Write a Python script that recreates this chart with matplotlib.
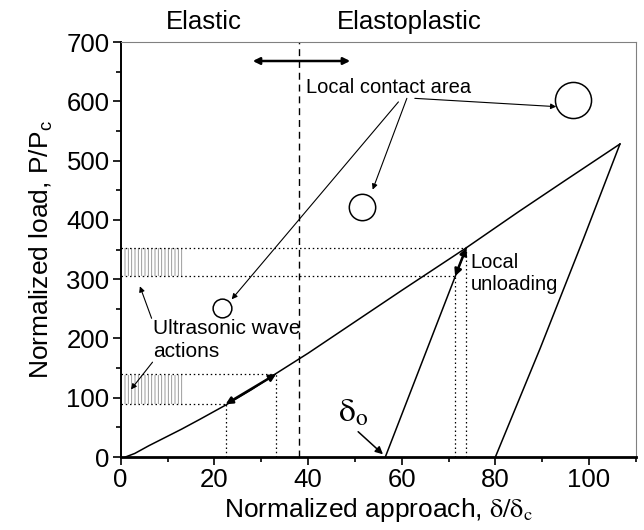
import numpy as np
import matplotlib
matplotlib.use('Agg')
import matplotlib.pyplot as plt
from matplotlib.patches import Rectangle

plt.rcParams['font.family'] = ['Liberation Sans', 'DejaVu Sans']
plt.rcParams['mathtext.fontset'] = 'custom'
plt.rcParams['mathtext.rm'] = 'Liberation Sans'
plt.rcParams['hatch.linewidth'] = 0.6

# loading curve (normalized approach vs normalized load)
load_x = [1, 3, 6, 10, 13, 17, 22.5, 28, 33, 40, 50, 60, 73.8, 85, 95, 106.6]
load_y = [0, 6, 19, 35, 47, 64, 88, 114, 140, 175, 228, 281, 353, 414, 467, 528]

# local unloading line and final unloading line
unload1_x = [56.5, 73.8]
unload1_y = [0, 353]
unload2_x = [80, 89.6, 98.8, 106.6]
unload2_y = [0, 184, 368, 528]

# elastic / elastoplastic boundary
boundary_x = 38.1

# ultrasonic action points (approach, load)
ultra_low = [(22.4, 89), (33.2, 140)]
ultra_high = [(71.4, 305), (73.8, 353)]

# contact area circles: x, y, marker size
circles_x = [21.7, 51.5, 96.5]
circles_y = [252, 421, 603]
circles_s = [13.5, 19, 26]

fig = plt.figure(figsize=(6.44, 5.30), dpi=100)
ax = fig.add_axes([0.1874, 0.1377, 0.800, 0.783])

lw = 1.1
ax.plot(load_x, load_y, color='black', lw=lw)
ax.plot(unload1_x, unload1_y, color='black', lw=lw)
ax.plot(unload2_x, unload2_y, color='black', lw=lw)
ax.plot([boundary_x, boundary_x], [0, 700], color='black', lw=1.0, ls=(0, (5, 3.5)))

dot = (0, (1.2, 2.2))
for (x, y) in ultra_low + ultra_high:
    ax.plot([0, x], [y, y], color='black', lw=0.9, ls=dot)
    ax.plot([x, x], [0, y], color='black', lw=0.9, ls=dot)

# wave symbols
for (y0, y1) in [(ultra_low[0][1], ultra_low[1][1]), (ultra_high[0][1], ultra_high[1][1])]:
    ax.add_patch(Rectangle((0.6, y0 + 1), 12.6, y1 - y0 - 2, fill=False,
                           hatch='|||||', edgecolor='#8c8c8c', lw=0))

# double arrows
dbl = dict(arrowstyle='<|-|>', color='black', lw=1.8, mutation_scale=10,
           shrinkA=0, shrinkB=0)
ax.annotate('', xy=(ultra_low[0][0], ultra_low[0][1]), xytext=(ultra_low[1][0], ultra_low[1][1]),
            arrowprops=dbl)
ax.annotate('', xy=(ultra_high[0][0], ultra_high[0][1]), xytext=(ultra_high[1][0], ultra_high[1][1]),
            arrowprops=dbl)
ax.annotate('', xy=(28.2, 668), xytext=(49, 668), arrowprops=dbl)

# circles
for cx, cy, s in zip(circles_x, circles_y, circles_s):
    ax.plot(cx, cy, 'o', ms=s, mfc='none', mec='black', mew=1.1)

fs = 14.5
thin = dict(arrowstyle='-|>', color='black', lw=0.8, mutation_scale=8,
            shrinkA=0, shrinkB=0)
ax.text(39.6, 624, 'Local contact area', fontsize=fs, ha='left', va='center')
ax.annotate('', xy=(23.7, 266), xytext=(59.3, 599), arrowprops=thin)
ax.annotate('', xy=(53.8, 451), xytext=(61.1, 605), arrowprops=thin)
ax.annotate('', xy=(93.0, 591), xytext=(62.8, 605), arrowprops=thin)

ax.text(7.0, 198, 'Ultrasonic wave\nactions', fontsize=15, ha='left', va='center',
        linespacing=1.25)
ax.annotate('', xy=(4.1, 288), xytext=(6.6, 234), arrowprops=thin)
ax.annotate('', xy=(2.2, 114), xytext=(6.8, 160), arrowprops=thin)

ax.text(74.65, 309, 'Local\nunloading', fontsize=fs, ha='left', va='center',
        linespacing=1.2)

ax.text(46.3, 60, r'$\mathrm{\delta}_\mathrm{o}$', fontsize=24, ha='left', va='baseline',
        math_fontfamily='stix')
ax.annotate('', xy=(56, 4.6), xytext=(50.7, 42.7),
            arrowprops=dict(arrowstyle='-|>', color='black', lw=1.1, mutation_scale=11,
                            shrinkA=0, shrinkB=0))

ax.text(17.8, 733, 'Elastic', fontsize=18.5, ha='center', va='center', clip_on=False)
ax.text(61.6, 733, 'Elastoplastic', fontsize=18.5, ha='center', va='center', clip_on=False)

ax.set_xlim(0, 110)
ax.set_ylim(0, 700)
ax.set_xticks([0, 20, 40, 60, 80, 100])
ax.set_xticks(np.arange(10, 111, 20), minor=True)
ax.set_yticks(np.arange(0, 701, 100))
ax.set_yticks(np.arange(50, 700, 100), minor=True)
ax.tick_params(which='major', direction='out', length=6, width=1.2, labelsize=18.5,
               top=False, right=False, pad=2)
ax.tick_params(which='minor', direction='out', length=3.5, width=1.2, top=False, right=False)

ax.spines['bottom'].set_linewidth(2.0)
ax.spines['left'].set_linewidth(1.4)
for s in ['top', 'right']:
    ax.spines[s].set_linewidth(0.8)
    ax.spines[s].set_color('#808080')

ax.set_xlabel(r'Normalized approach, $\mathrm{\delta/\delta}_\mathrm{c}$', fontsize=19,
              math_fontfamily='stix', labelpad=3)
ax.set_ylabel(r'Normalized load, P/P$_\mathrm{c}$', fontsize=19, labelpad=8)

fig.savefig('out.png', dpi=100)
